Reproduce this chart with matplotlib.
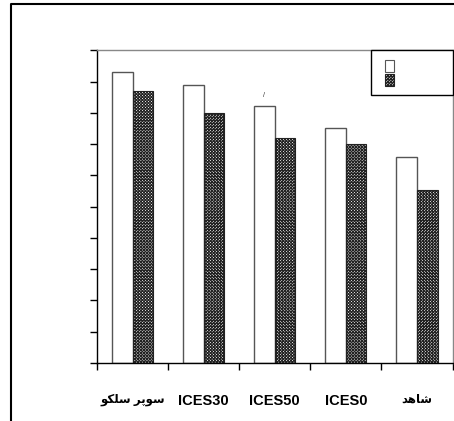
import matplotlib
matplotlib.use("Agg")
import matplotlib.pyplot as plt
from matplotlib.patches import Rectangle
from matplotlib.lines import Line2D

plt.rcParams['font.family'] = ['Liberation Sans', 'DejaVu Sans']
plt.rcParams['hatch.linewidth'] = 0.8
plt.rcParams['hatch.color'] = '#1a1a1a'

# ---- data ----
categories = ['سوپر سلکو', 'ICES30', 'ICES50', 'ICES0', 'شاهد']
series_a = [9.3, 8.9, 8.23, 7.5, 6.6]   # white bars
series_b = [8.7, 8.0, 7.2, 7.0, 5.52]   # hatched bars
y_ticks = list(range(0, 11))

# ---- minimal Arabic/Persian shaping (presentation forms, visual order) ----
FORMS = {
    'س': ('\uFEB1', '\uFEB2', '\uFEB3', '\uFEB4'),
    'ش': ('\uFEB5', '\uFEB6', '\uFEB7', '\uFEB8'),
    'ل': ('\uFEDD', '\uFEDE', '\uFEDF', '\uFEE0'),
    'ه': ('\uFEE9', '\uFEEA', '\uFEEB', '\uFEEC'),
    'پ': ('\uFB56', '\uFB57', '\uFB58', '\uFB59'),
    'ک': ('\uFB8E', '\uFB8F', '\uFB90', '\uFB91'),
    'و': ('\uFEED', '\uFEEE', '\uFEED', '\uFEEE'),
    'ر': ('\uFEAD', '\uFEAE', '\uFEAD', '\uFEAE'),
    'د': ('\uFEA9', '\uFEAA', '\uFEA9', '\uFEAA'),
    'ا': ('\uFE8D', '\uFE8E', '\uFE8D', '\uFE8E'),
}
RIGHT_ONLY = set('وردا')


def is_arabic(text):
    return any(c in FORMS for c in text)


def shape(text):
    if not is_arabic(text):
        return text
    out = []
    for i, ch in enumerate(text):
        if ch not in FORMS:
            out.append(ch)
            continue
        prev = text[i - 1] if i > 0 else None
        nxt = text[i + 1] if i + 1 < len(text) else None
        jp = prev in FORMS and prev not in RIGHT_ONLY
        jn = nxt in FORMS and ch not in RIGHT_ONLY
        iso, fin, ini, med = FORMS[ch]
        if jp and jn:
            out.append(med)
        elif jp:
            out.append(fin)
        elif jn:
            out.append(ini)
        else:
            out.append(iso)
    return ''.join(reversed(out))


HATCH = 'x' * 11

fig = plt.figure(figsize=(4.54, 4.21), dpi=100)
ax = fig.add_axes([97 / 454, 58 / 421, 355.5 / 454, 312.7 / 421])

x = list(range(len(categories)))
w = 0.29
xa = [i - w / 2 for i in x]
xb = [i + w / 2 for i in x]
ax.bar(xa, series_a, width=w, facecolor='white', edgecolor='#555555', linewidth=1.0, zorder=2)
ax.bar(xb, series_b, width=w, facecolor='white', edgecolor='#222222', linewidth=0.8,
       hatch=HATCH, zorder=2)

# small mark above third white bar
ax.text(xa[2], series_a[2] + 0.22, '/', fontsize=5, color='#333333', ha='center', va='bottom')

ax.set_xlim(-0.5, len(categories) - 0.5)
ax.set_ylim(0, 10)
ax.set_yticks(y_ticks)
ax.set_yticklabels([])
ax.tick_params(axis='y', direction='out', length=5, width=1, color='black')

ax.set_xticks([i - 0.5 for i in range(len(categories) + 1)])
ax.set_xticklabels([])
ax.tick_params(axis='x', which='major', direction='out', length=5, width=1, color='black')
ax.set_xticks(x, minor=True)
labels = ax.set_xticklabels([shape(c) for c in categories], minor=True, fontsize=10.5,
                            fontweight='bold')
for lab, c in zip(labels, categories):
    if is_arabic(c):
        lab.set_fontsize(8.5)
ax.tick_params(axis='x', which='minor', length=0, pad=22)

for s in ['left', 'bottom']:
    ax.spines[s].set_color('black')
    ax.spines[s].set_linewidth(1.0)
for s in ['top', 'right']:
    ax.spines[s].set_color('#888888')
    ax.spines[s].set_linewidth(1.0)

# legend box (series names unlabeled in the source)
def ax_frac(px, py):
    return ((px - 97) / 355.5, (363 - py) / 312.7)

lx0, ly0 = ax_frac(370.5, 95.3)
lx1, ly1 = ax_frac(452.5, 50.3)
ax.add_patch(Rectangle((lx0, ly0), lx1 - lx0, ly1 - ly0, transform=ax.transAxes,
                       facecolor='white', edgecolor='black', linewidth=1.0, zorder=5,
                       clip_on=False))
px0, py0 = ax_frac(385, 72)
px1, py1 = ax_frac(394, 60)
ax.add_patch(Rectangle((px0, py0), px1 - px0, py1 - py0, transform=ax.transAxes,
                       facecolor='white', edgecolor='#555555', linewidth=0.8, zorder=6))
px0, py0 = ax_frac(385, 86)
px1, py1 = ax_frac(394, 74)
ax.add_patch(Rectangle((px0, py0), px1 - px0, py1 - py0, transform=ax.transAxes,
                       facecolor='white', edgecolor='#222222', linewidth=0.8,
                       hatch=HATCH, zorder=6))

# outer border (left and top edges)
fig.add_artist(Line2D([11 / 454, 11 / 454, 1.0], [0.0, 1 - 4 / 421, 1 - 4 / 421],
                      transform=fig.transFigure, color='black', linewidth=1.5))

fig.savefig('out.png', dpi=100)
